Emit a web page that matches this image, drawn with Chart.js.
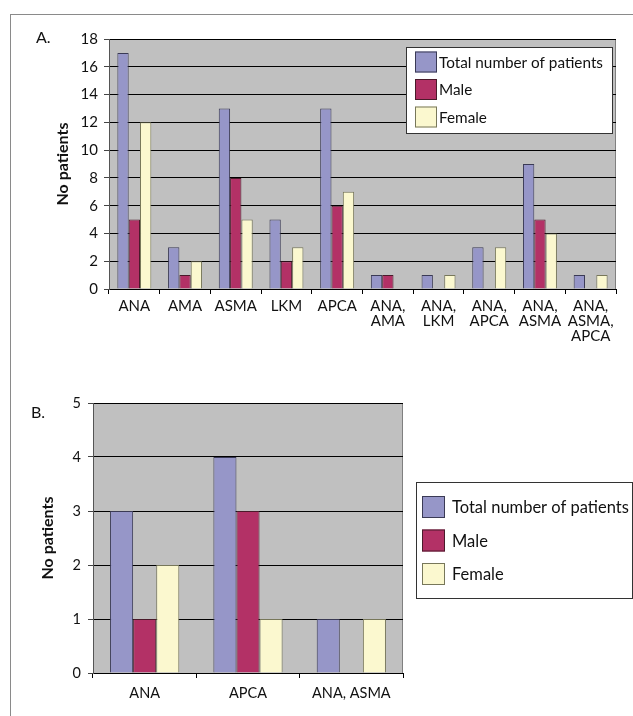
<!DOCTYPE html>
<html>
<head>
<meta charset="utf-8">
<script src="https://cdn.jsdelivr.net/npm/chart.js@4"></script>
<style>
  body { margin: 0; background: #fff; width: 633px; height: 716px; overflow: hidden; position: relative; font-family: Lato, sans-serif; }
  .frame { position: absolute; left: 10px; top: 14px; width: 640px; height: 720px; border-left: 1px solid #8a8a8a; border-top: 1px solid #8a8a8a; }
  .panel { position: absolute; font-size: 16px; color: #111; }
  canvas { position: absolute; left: 0; }
</style>
</head>
<body>
<div class="frame"></div>
<canvas id="chartA" width="633" height="360" style="top:0"></canvas>
<canvas id="chartB" width="633" height="356" style="top:360px"></canvas>
<div class="panel" style="left:36px; top:27px">A.</div>
<div class="panel" style="left:31px; top:402px">B.</div>
<script>
// Data
const seriesNames = ['Total number of patients', 'Male', 'Female'];

const categoriesA = ['ANA', 'AMA', 'ASMA', 'LKM', 'APCA', ['ANA,', 'AMA'], ['ANA,', 'LKM'], ['ANA,', 'APCA'], ['ANA,', 'ASMA'], ['ANA,', 'ASMA,', 'APCA']];
const totalA = [17, 3, 13, 5, 13, 1, 1, 3, 9, 1];
const maleA = [5, 1, 8, 2, 6, 1, 0, 0, 5, 0];
const femaleA = [12, 2, 5, 3, 7, 0, 1, 3, 4, 1];

const categoriesB = ['ANA', 'APCA', 'ANA, ASMA'];
const totalB = [3, 4, 1];
const maleB = [1, 3, 0];
const femaleB = [2, 1, 1];

const colors = ['#9696c8', '#b33166', '#fbf8cf'];
const borders = ['#3a3a55', '#4a1a2a', '#77775a'];
const fontFamily = 'Lato, sans-serif';

// grey plot area with a thin frame
const plotBg = {
  id: 'plotBg',
  beforeDraw(chart) {
    const { ctx, chartArea: a } = chart;
    ctx.save();
    ctx.fillStyle = '#c0c0c0';
    ctx.fillRect(a.left, a.top, a.right - a.left, a.bottom - a.top);
    ctx.strokeStyle = '#808080';
    ctx.lineWidth = 1;
    ctx.strokeRect(a.left + 0.5, a.top + 0.5, a.right - a.left - 1, a.bottom - a.top);
    ctx.restore();
  }
};

// boxed legend at a fixed spot, built from the datasets
const boxLegend = {
  id: 'boxLegend',
  afterDraw(chart, args, o) {
    const { ctx } = chart;
    ctx.save();
    ctx.fillStyle = '#fff';
    ctx.fillRect(o.x, o.y, o.w, o.h);
    ctx.strokeStyle = '#333';
    ctx.lineWidth = 1;
    ctx.strokeRect(o.x + 0.5, o.y + 0.5, o.w, o.h);
    ctx.font = o.fontSize + 'px ' + fontFamily;
    ctx.textBaseline = 'middle';
    chart.data.datasets.forEach((ds, i) => {
      const cy = o.firstY + i * o.step;
      ctx.fillStyle = ds.backgroundColor;
      ctx.fillRect(o.swX, cy - o.sw / 2, o.swW, o.sw);
      ctx.strokeStyle = ds.borderColor;
      ctx.strokeRect(o.swX + 0.5, cy - o.sw / 2 + 0.5, o.swW - 1, o.sw - 1);
      ctx.fillStyle = '#111';
      ctx.fillText(ds.label, o.textX, cy + 1);
    });
    ctx.restore();
  }
};

function makeDatasets(values) {
  return values.map((v, i) => ({
    label: seriesNames[i],
    data: v,
    backgroundColor: colors[i],
    borderColor: borders[i],
    borderWidth: 1,
    categoryPercentage: 0.67,
    barPercentage: 1.0
  }));
}

function makeChart(el, labels, values, cfg) {
  return new Chart(el, {
    type: 'bar',
    data: { labels: labels, datasets: makeDatasets(values) },
    plugins: [plotBg, boxLegend],
    options: {
      responsive: false,
      animation: false,
      layout: { padding: { top: cfg.top, right: cfg.right, left: 0, bottom: 0 } },
      plugins: {
        legend: { display: false },
        tooltip: { enabled: false },
        boxLegend: cfg.legend
      },
      scales: {
        x: {
          afterFit: s => { s.height = cfg.xHeight; },
          grid: { offset: true, drawOnChartArea: false, color: '#000', tickLength: 5 },
          border: { color: '#000' },
          ticks: { color: '#111', padding: cfg.xPad, maxRotation: 0, autoSkip: false,
                   font: { family: fontFamily, size: cfg.tickSize, lineHeight: 1.0 } }
        },
        y: {
          min: 0, max: cfg.max,
          afterFit: s => { s.width = cfg.yWidth; },
          grid: { color: '#000', tickColor: '#444', tickLength: 5 },
          border: { color: '#555' },
          ticks: { stepSize: cfg.step, color: '#111', padding: cfg.yPad,
                   font: { family: fontFamily, size: cfg.tickSize } },
          title: { display: true, text: 'No patients', color: '#111',
                   padding: { top: cfg.titlePad, bottom: 0 },
                   font: { family: fontFamily, size: cfg.titleSize, weight: 'bold' } }
        }
      }
    }
  });
}

makeChart(document.getElementById('chartA'), categoriesA, [totalA, maleA, femaleA], {
  top: 39, right: 17, xHeight: 71, yWidth: 109, max: 18, step: 2,
  tickSize: 15, xPad: 5, yPad: 6, titlePad: 53, titleSize: 16,
  legend: { x: 406, y: 47, w: 206, h: 86, firstY: 62, step: 27.5,
            swX: 415, swW: 22, sw: 21, textX: 439, fontSize: 15.3 }
});

makeChart(document.getElementById('chartB'), categoriesB, [totalB, maleB, femaleB], {
  top: 43, right: 230, xHeight: 43, yWidth: 93, max: 5, step: 1,
  tickSize: 14.5, xPad: 8, yPad: 7, titlePad: 38, titleSize: 16,
  legend: { x: 416, y: 122, w: 216, h: 116, firstY: 147, step: 33.5,
            swX: 422, swW: 23, sw: 22, textX: 452, fontSize: 16.5 }
});
</script>
</body>
</html>
